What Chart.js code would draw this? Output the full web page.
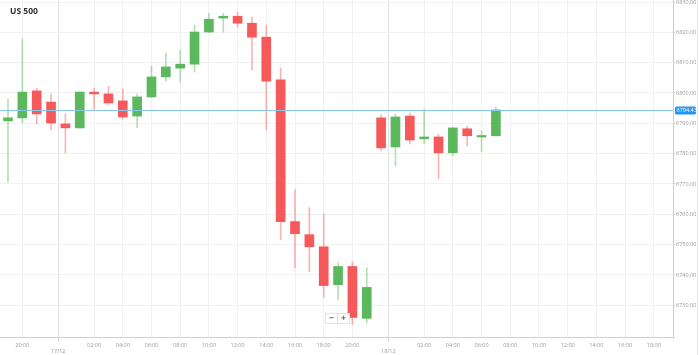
<!DOCTYPE html>
<html lang="en">
<head>
  <meta charset="UTF-8">
  <title>US 500</title>
  <script src="https://cdn.jsdelivr.net/npm/chart.js@4.4.0/dist/chart.umd.min.js"></script>
  <style>
    html, body { margin: 0; padding: 0; background: #fff; }
    #wrap { position: relative; width: 699px; height: 355px; }
    #title { position: absolute; left: 10px; top: 5px; font: bold 8.5px 'Open Sans', sans-serif; color: #333; }
    #edge { position: absolute; left: 697px; top: 0; width: 1px; height: 355px; background: #e6e6e6; }
    #zoomer { position: absolute; left: 325px; top: 313px; height: 9px; display: flex; border: 1px solid #e2e2e2; background: #fff; }
    #zoomer span { width: 11px; font: bold 7px 'DejaVu Sans', sans-serif; color: #555; text-align: center; line-height: 9px; }
    #zoomer span + span { border-left: 1px solid #e2e2e2; }
  </style>
</head>
<body>
  <div id="wrap">
    <canvas id="chart"></canvas>
    <div id="title">US 500</div>
    <div id="zoomer"><span>−</span><span>+</span></div>
    <div id="edge"></div>
  </div>

  <script>
    // hourly slots on the axis (market break 22:00 is skipped)
    const hours = ['19:00','20:00','21:00','23:00',
      '00:00','01:00','02:00','03:00','04:00','05:00','06:00','07:00','08:00','09:00','10:00','11:00',
      '12:00','13:00','14:00','15:00','16:00','17:00','18:00','19:00','20:00','21:00','23:00',
      '00:00','01:00','02:00','03:00','04:00','05:00','06:00','07:00','08:00','09:00','10:00','11:00',
      '12:00','13:00','14:00','15:00','16:00','17:00','18:00','19:00'];
    const dayLabels = ['17/12', '18/12'];

    // OHLC, one candle per hour slot
    const open  = [6790.8, 6791.8, 6800.7, 6797.0, 6789.8, 6788.5, 6800.3, 6799.7, 6797.4, 6792.4, 6798.7, 6805.3,
                   6808.2, 6809.5, 6820.1, 6824.7, 6825.3, 6823.0, 6818.4, 6804.3, 6757.6, 6753.3, 6749.3, 6736.8,
                   6742.8, 6725.7, 6791.8, 6782.2, 6792.4, 6784.9, 6785.5, 6780.3, 6788.2, 6785.5, 6785.9];
    const high  = [6798.0, 6817.8, 6801.6, 6799.7, 6793.1, 6800.5, 6801.6, 6802.3, 6801.3, 6799.7, 6808.9, 6813.2,
                   6814.1, 6822.4, 6826.3, 6826.3, 6826.6, 6825.0, 6822.4, 6808.2, 6768.1, 6762.2, 6760.2, 6744.1,
                   6744.4, 6742.4, 6792.8, 6793.1, 6793.4, 6794.7, 6786.5, 6788.6, 6789.1, 6787.5, 6795.4];
    const low   = [6770.7, 6790.1, 6789.8, 6787.8, 6780.3, 6788.3, 6794.4, 6796.1, 6791.4, 6788.5, 6798.5, 6803.9,
                   6803.6, 6806.9, 6819.9, 6820.1, 6821.7, 6807.6, 6787.8, 6751.6, 6742.4, 6741.1, 6732.6, 6731.9,
                   6723.7, 6724.3, 6780.9, 6776.0, 6783.2, 6783.2, 6771.7, 6779.3, 6782.6, 6780.6, 6785.8];
    const close = [6791.8, 6800.3, 6793.1, 6790.1, 6788.5, 6800.3, 6799.7, 6796.7, 6792.1, 6798.7, 6805.3, 6808.6,
                   6809.5, 6820.1, 6824.3, 6825.3, 6823.0, 6818.4, 6803.9, 6757.6, 6753.6, 6749.3, 6736.5, 6742.8,
                   6726.0, 6735.9, 6781.9, 6792.1, 6784.5, 6785.5, 6780.3, 6788.5, 6785.9, 6785.9, 6794.43];

    const yTicks = [6730, 6740, 6750, 6760, 6770, 6780, 6790, 6800, 6810, 6820, 6830];
    const lastPrice = close[close.length - 1];

    const UP = '#5cb85c', DOWN = '#f65959';
    const UP_WICK = 'rgba(92,184,92,0.45)', DOWN_WICK = 'rgba(246,89,89,0.45)';
    const isUp = open.map((o, i) => close[i] >= o);

    // x ticks: even hours, plus a date marker between 23:00 and 00:00
    const xTicks = [];
    let day = 0;
    hours.forEach((h, i) => {
      if (h === '00:00') xTicks.push({ value: i - 0.5, date: dayLabels[day++] });
      else if (parseInt(h, 10) % 2 === 0) xTicks.push({ value: i, label: h });
    });

    const priceLine = {
      id: 'priceLine',
      afterDraw(chart) {
        const { ctx, chartArea, scales } = chart;
        const y = Math.round(scales.y.getPixelForValue(lastPrice)) + 0.5;
        ctx.save();
        ctx.strokeStyle = '#86c6ef';
        ctx.lineWidth = 1;
        ctx.beginPath();
        ctx.moveTo(chartArea.left, y);
        ctx.lineTo(chartArea.right, y);
        ctx.stroke();
        ctx.fillStyle = '#2196f3';
        ctx.beginPath();
        ctx.roundRect(chartArea.right + 2, y - 4, 21, 8, 1.5);
        ctx.fill();
        ctx.fillStyle = '#fff';
        ctx.font = '5.5px "Open Sans"';
        ctx.textBaseline = 'middle';
        ctx.fillText(lastPrice.toFixed(2), chartArea.right + 3.5, y);
        ctx.restore();
      }
    };

    new Chart(document.getElementById('chart'), {
      type: 'bar',
      data: {
        datasets: [
          {
            label: 'bodies',
            data: open.map((o, i) => ({ x: i, y: [o, close[i]] })),
            backgroundColor: isUp.map(u => u ? UP : DOWN),
            barThickness: 9,
            minBarLength: 1.5,
            grouped: false,
            order: 0
          },
          {
            label: 'wicks',
            data: open.map((o, i) => ({ x: i, y: [low[i], high[i]] })),
            backgroundColor: isUp.map(u => u ? UP_WICK : DOWN_WICK),
            barThickness: 1,
            grouped: false,
            order: 1
          }
        ]
      },
      options: {
        responsive: true,
        maintainAspectRatio: false,
        animation: false,
        layout: { padding: 0 },
        plugins: { legend: { display: false }, tooltip: { enabled: false } },
        scales: {
          x: {
            type: 'linear',
            offset: false,
            min: -0.557,
            max: 46.34,
            afterBuildTicks: s => { s.ticks = xTicks.map(t => ({ value: t.value })); },
            afterFit: s => { s.height = 18; s.paddingLeft = 0; s.paddingRight = 0; },
            grid: {
              offset: false,
              color: c => (c.tick && c.tick.value % 1 !== 0) ? '#e0e0e0' : '#f1f1f1',
              tickColor: c => (c.tick && c.tick.value % 1 !== 0) ? '#cfcfcf' : 'rgba(0,0,0,0)',
              tickLength: 4
            },
            border: { display: true, color: '#cfcfcf' },
            ticks: {
              autoSkip: false,
              maxRotation: 0,
              padding: 1,
              color: '#999',
              font: { size: 5.5, family: 'Open Sans' },
              callback: (v) => {
                const t = xTicks.find(k => Math.abs(k.value - v) < 0.01);
                if (!t) return '';
                return t.date ? ['', t.date] : t.label;
              }
            }
          },
          y: {
            position: 'right',
            min: 6719.55,
            max: 6830.66,
            afterBuildTicks: s => { s.ticks = yTicks.map(v => ({ value: v })); },
            afterFit: s => { s.width = 26; s.paddingTop = 0; s.paddingBottom = 0; },
            grid: { color: '#f1f1f1', tickColor: '#c8c8c8', tickLength: 2 },
            border: { display: true, color: '#cfcfcf' },
            ticks: {
              padding: 1,
              color: '#999',
              font: { size: 5.5, family: 'Open Sans' },
              callback: v => v.toFixed(2)
            }
          }
        }
      },
      plugins: [priceLine]
    });
  </script>
</body>
</html>
